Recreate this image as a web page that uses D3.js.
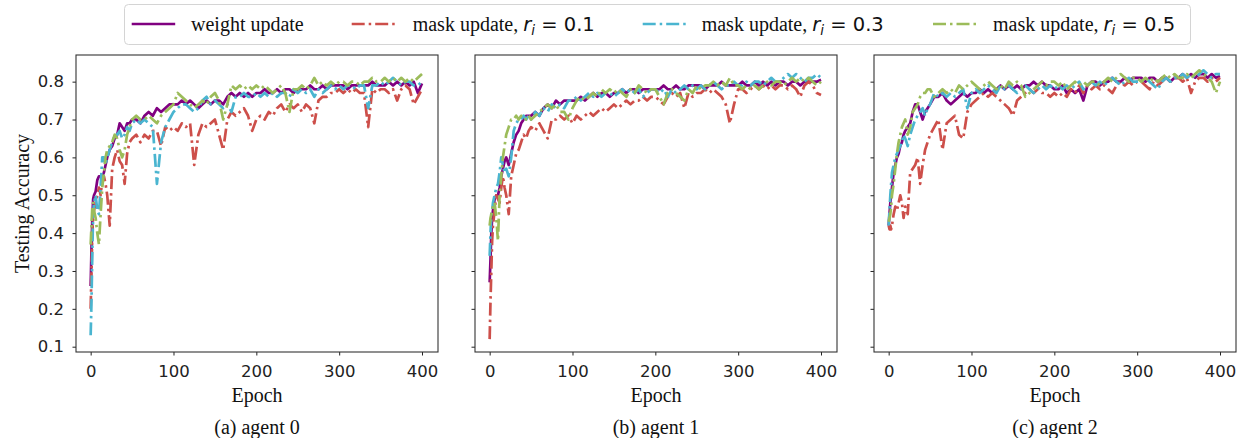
<!DOCTYPE html>
<html><head><meta charset="utf-8">
<script src="https://cdn.jsdelivr.net/npm/d3@7"></script>
<style>body{margin:0;background:#fff}</style></head>
<body>
<svg id="chart" width="1239" height="438"></svg>
<script>
// ---------------- DATA ----------------
const epochs = [0,1,2,3,4,6,8,10,12,14,16,18,20,23,26,29,32,35,38,41,44,47,
  50,55,60,65,70,75,80,85,90,95,100,
  105,110,115,120,125,130,135,140,145,150,
  155,160,165,170,175,180,185,190,195,200,
  205,210,215,220,225,230,235,240,245,250,
  255,260,265,270,275,280,285,290,295,300,
  305,310,315,320,325,330,335,340,345,350,
  355,360,365,370,375,380,385,390,395,400];

const seriesNames = ["weight update", "mask update, ", "mask update, ", "mask update, "];
const ratioLabels = ["", "0.1", "0.3", "0.5"];
const panelLabels = ["(a) agent 0", "(b) agent 1", "(c) agent 2"];
const xTicks = [0, 100, 200, 300, 400];
const yTicks = [0.1, 0.2, 0.3, 0.4, 0.5, 0.6, 0.7, 0.8];

// agent 0
const a0_weight = [0.26,0.36,0.44,0.49,0.50,0.51,0.54,0.55,0.55,0.55,0.56,0.58,0.60,0.62,0.63,0.65,0.66,0.69,0.68,0.67,0.69,0.69,
  0.70,0.70,0.69,0.71,0.72,0.71,0.73,0.72,0.73,0.74,0.74,
  0.74,0.75,0.74,0.75,0.74,0.73,0.74,0.75,0.74,0.75,
  0.75,0.74,0.76,0.77,0.76,0.77,0.76,0.77,0.76,0.77,
  0.77,0.78,0.77,0.77,0.78,0.77,0.78,0.78,0.77,0.78,
  0.78,0.78,0.79,0.78,0.78,0.79,0.78,0.79,0.79,0.79,
  0.79,0.78,0.79,0.79,0.79,0.79,0.79,0.80,0.79,0.79,
  0.79,0.80,0.79,0.80,0.79,0.80,0.79,0.80,0.77,0.795];
const a0_r1 = [0.20,0.30,0.40,0.44,0.46,0.48,0.50,0.52,0.50,0.54,0.55,0.53,0.50,0.42,0.57,0.60,0.62,0.59,0.58,0.53,0.61,0.64,
  0.65,0.66,0.64,0.66,0.65,0.67,0.67,0.63,0.68,0.67,0.68,
  0.67,0.69,0.68,0.69,0.58,0.66,0.69,0.68,0.69,0.70,
  0.66,0.62,0.70,0.72,0.71,0.72,0.73,0.71,0.67,0.70,
  0.71,0.70,0.72,0.71,0.73,0.74,0.72,0.74,0.73,0.74,
  0.72,0.74,0.73,0.69,0.75,0.76,0.76,0.77,0.77,0.78,
  0.77,0.78,0.77,0.78,0.77,0.77,0.68,0.78,0.77,0.78,
  0.78,0.77,0.78,0.75,0.78,0.79,0.78,0.74,0.76,0.78];
const a0_r3 = [0.13,0.22,0.35,0.45,0.48,0.50,0.46,0.45,0.52,0.60,0.60,0.58,0.60,0.62,0.64,0.66,0.66,0.67,0.65,0.66,0.68,0.67,
  0.69,0.70,0.69,0.70,0.69,0.68,0.53,0.64,0.68,0.70,0.72,
  0.73,0.74,0.74,0.73,0.72,0.73,0.75,0.76,0.74,0.75,
  0.74,0.73,0.74,0.72,0.76,0.76,0.77,0.76,0.76,0.77,
  0.76,0.77,0.76,0.77,0.76,0.77,0.77,0.76,0.78,0.77,
  0.78,0.77,0.78,0.76,0.78,0.77,0.78,0.79,0.78,0.79,
  0.78,0.79,0.79,0.78,0.79,0.79,0.73,0.79,0.79,0.80,
  0.79,0.80,0.81,0.80,0.79,0.80,0.80,0.79,0.79,0.80];
const a0_r5 = [0.37,0.42,0.47,0.48,0.46,0.44,0.40,0.37,0.45,0.52,0.56,0.60,0.62,0.63,0.64,0.66,0.65,0.62,0.60,0.62,0.66,0.68,
  0.70,0.71,0.70,0.70,0.71,0.70,0.69,0.71,0.72,0.73,0.74,
  0.77,0.76,0.75,0.74,0.73,0.74,0.75,0.74,0.76,0.77,
  0.75,0.70,0.74,0.79,0.78,0.79,0.78,0.79,0.78,0.79,
  0.78,0.79,0.78,0.77,0.78,0.79,0.77,0.72,0.78,0.78,
  0.79,0.78,0.79,0.81,0.79,0.80,0.79,0.80,0.79,0.80,
  0.80,0.79,0.80,0.80,0.79,0.80,0.80,0.81,0.80,0.80,
  0.81,0.80,0.81,0.80,0.81,0.80,0.81,0.80,0.81,0.82];

// agent 1
const a1_weight = [0.27,0.33,0.40,0.44,0.46,0.49,0.50,0.50,0.52,0.55,0.57,0.59,0.60,0.58,0.61,0.64,0.66,0.67,0.69,0.70,0.71,0.71,
  0.71,0.72,0.71,0.73,0.74,0.73,0.75,0.74,0.75,0.75,0.75,
  0.75,0.76,0.75,0.76,0.77,0.76,0.77,0.77,0.76,0.77,
  0.77,0.78,0.77,0.78,0.78,0.77,0.78,0.78,0.78,0.78,
  0.78,0.79,0.78,0.78,0.79,0.78,0.78,0.79,0.79,0.79,
  0.79,0.78,0.79,0.79,0.79,0.80,0.79,0.79,0.79,0.79,
  0.80,0.79,0.79,0.80,0.79,0.80,0.79,0.80,0.79,0.80,
  0.80,0.79,0.80,0.80,0.79,0.80,0.80,0.80,0.80,0.805];
const a1_r1 = [0.12,0.22,0.30,0.38,0.42,0.46,0.50,0.49,0.48,0.52,0.55,0.52,0.50,0.45,0.55,0.58,0.61,0.62,0.64,0.66,0.65,0.67,
  0.68,0.67,0.69,0.67,0.65,0.70,0.70,0.71,0.70,0.71,0.69,
  0.71,0.70,0.71,0.72,0.71,0.72,0.73,0.72,0.73,0.74,
  0.73,0.74,0.75,0.74,0.75,0.75,0.76,0.75,0.76,0.76,
  0.75,0.74,0.76,0.77,0.76,0.77,0.73,0.77,0.76,0.77,
  0.77,0.78,0.77,0.78,0.77,0.76,0.74,0.69,0.74,0.78,
  0.78,0.77,0.78,0.79,0.78,0.79,0.78,0.79,0.78,0.79,
  0.79,0.78,0.79,0.78,0.76,0.79,0.80,0.79,0.77,0.765];
const a1_r3 = [0.34,0.40,0.45,0.46,0.48,0.50,0.52,0.53,0.56,0.60,0.58,0.56,0.57,0.55,0.60,0.67,0.69,0.70,0.70,0.71,0.70,0.71,
  0.70,0.72,0.71,0.73,0.72,0.74,0.73,0.74,0.73,0.75,0.75,
  0.76,0.75,0.76,0.77,0.76,0.77,0.76,0.77,0.77,0.76,
  0.77,0.78,0.77,0.78,0.77,0.78,0.76,0.77,0.78,0.78,
  0.77,0.78,0.76,0.78,0.77,0.78,0.79,0.78,0.79,0.78,
  0.79,0.78,0.79,0.80,0.79,0.78,0.79,0.79,0.80,0.79,
  0.79,0.80,0.79,0.80,0.80,0.79,0.80,0.81,0.80,0.80,
  0.81,0.82,0.81,0.82,0.81,0.80,0.81,0.81,0.82,0.81];
const a1_r5 = [0.42,0.44,0.45,0.46,0.47,0.48,0.44,0.38,0.50,0.55,0.60,0.63,0.66,0.68,0.70,0.70,0.71,0.70,0.71,0.71,0.70,0.71,
  0.70,0.71,0.72,0.73,0.74,0.73,0.74,0.72,0.72,0.70,0.73,
  0.75,0.76,0.75,0.76,0.77,0.76,0.78,0.77,0.78,0.77,
  0.78,0.77,0.76,0.78,0.77,0.79,0.78,0.77,0.78,0.78,
  0.76,0.74,0.77,0.78,0.77,0.76,0.75,0.78,0.77,0.79,
  0.78,0.79,0.79,0.80,0.79,0.80,0.79,0.81,0.79,0.79,
  0.78,0.79,0.78,0.79,0.78,0.79,0.80,0.79,0.80,0.80,
  0.79,0.80,0.81,0.80,0.81,0.80,0.81,0.80,0.79,0.80];

// agent 2
const a2_weight = [0.42,0.45,0.48,0.50,0.52,0.56,0.58,0.60,0.61,0.63,0.64,0.66,0.67,0.68,0.69,0.72,0.74,0.74,0.72,0.70,0.72,0.73,
  0.74,0.76,0.76,0.77,0.75,0.74,0.75,0.76,0.77,0.76,0.77,
  0.77,0.78,0.77,0.78,0.77,0.78,0.79,0.78,0.79,0.78,
  0.79,0.78,0.79,0.79,0.80,0.79,0.80,0.79,0.79,0.78,
  0.78,0.79,0.77,0.78,0.77,0.78,0.75,0.79,0.80,0.80,
  0.79,0.80,0.80,0.81,0.80,0.80,0.81,0.80,0.81,0.81,
  0.81,0.80,0.81,0.81,0.80,0.81,0.81,0.80,0.81,0.81,
  0.82,0.81,0.82,0.81,0.82,0.82,0.81,0.82,0.81,0.815];
const a2_r1 = [0.42,0.41,0.42,0.41,0.42,0.45,0.47,0.46,0.48,0.50,0.48,0.44,0.47,0.45,0.56,0.57,0.58,0.60,0.53,0.58,0.62,0.64,
  0.66,0.68,0.70,0.62,0.69,0.70,0.71,0.66,0.65,0.72,0.74,
  0.75,0.76,0.77,0.76,0.77,0.76,0.75,0.74,0.73,0.71,
  0.75,0.76,0.77,0.78,0.77,0.78,0.77,0.77,0.76,0.77,
  0.76,0.77,0.76,0.78,0.77,0.79,0.77,0.79,0.78,0.79,
  0.78,0.79,0.78,0.77,0.79,0.80,0.79,0.80,0.79,0.80,
  0.80,0.79,0.78,0.80,0.79,0.80,0.81,0.80,0.81,0.81,
  0.80,0.81,0.77,0.80,0.81,0.81,0.80,0.81,0.80,0.81];
const a2_r3 = [0.42,0.46,0.50,0.53,0.56,0.58,0.60,0.61,0.62,0.63,0.64,0.66,0.65,0.63,0.66,0.68,0.70,0.71,0.72,0.73,0.71,0.73,
  0.74,0.77,0.76,0.77,0.76,0.77,0.76,0.77,0.78,0.73,0.77,
  0.78,0.77,0.78,0.79,0.78,0.77,0.79,0.78,0.79,0.78,
  0.77,0.78,0.79,0.78,0.77,0.78,0.79,0.78,0.79,0.78,
  0.79,0.78,0.79,0.78,0.79,0.80,0.78,0.79,0.80,0.79,
  0.80,0.79,0.80,0.81,0.80,0.79,0.80,0.81,0.80,0.80,
  0.80,0.81,0.80,0.79,0.78,0.80,0.81,0.80,0.81,0.81,
  0.82,0.81,0.82,0.81,0.82,0.83,0.82,0.81,0.82,0.82];
const a2_r5 = [0.43,0.44,0.45,0.47,0.50,0.53,0.57,0.61,0.64,0.66,0.68,0.69,0.70,0.66,0.68,0.72,0.73,0.74,0.76,0.77,0.77,0.78,
  0.78,0.76,0.77,0.78,0.77,0.78,0.77,0.79,0.78,0.79,0.80,
  0.79,0.78,0.79,0.80,0.79,0.78,0.79,0.78,0.80,0.79,
  0.80,0.79,0.76,0.77,0.78,0.79,0.80,0.79,0.80,0.80,
  0.79,0.80,0.78,0.79,0.80,0.79,0.80,0.79,0.80,0.80,
  0.79,0.80,0.81,0.80,0.81,0.82,0.81,0.80,0.81,0.81,
  0.80,0.81,0.80,0.81,0.80,0.81,0.82,0.81,0.82,0.81,
  0.81,0.82,0.81,0.82,0.83,0.82,0.81,0.80,0.77,0.80];

const panelSeries = [
  [a0_weight, a0_r1, a0_r3, a0_r5],
  [a1_weight, a1_r1, a1_r3, a1_r5],
  [a2_weight, a2_r1, a2_r3, a2_r5]
];

// ---------------- STYLE ----------------
const colors = ["#800080", "#cd4f4a", "#4ab5d0", "#9cbc5a"];
const dashes = [null, "13,4,2.5,4", "13,4,2.5,4", "13,4,2.5,4"];
const serif = "'Liberation Serif','Times New Roman',serif";
const sans = "'DejaVu Sans',sans-serif";

const svg = d3.select("#chart");
const panelLefts = [76, 475, 874];
const pw = 362, plotTop = 55, plotBottom = 352;

const y = d3.scaleLinear().domain([0.086, 0.8704]).range([plotBottom, plotTop]);

panelSeries.forEach((series, p) => {
  const L = panelLefts[p];
  const x = d3.scaleLinear().domain([-17.7, 419.3]).range([L, L + pw]);
  const g = svg.append("g");

  series.forEach((vals, s) => {
    const pts = epochs.map((e, i) => [e, vals[i]]);
    const line = d3.line().x(d => x(d[0])).y(d => y(d[1]));
    g.append("path").datum(pts)
      .attr("d", line)
      .attr("fill", "none")
      .attr("stroke", colors[s])
      .attr("stroke-width", 2.7)
      .attr("stroke-linejoin", "round")
      .attr("stroke-dasharray", dashes[s]);
  });

  const xa = g.append("g").attr("transform", `translate(0,${plotBottom})`)
    .call(d3.axisBottom(x).tickValues(xTicks).tickSize(3.5).tickSizeOuter(0).tickFormat(d3.format("d")));
  xa.select(".domain").remove();
  xa.selectAll("line").attr("stroke", "#222");
  xa.selectAll("text").attr("dy", null).attr("y", 24.5)
    .attr("font-family", sans).attr("font-size", 16.5).attr("fill", "#222");

  const ya = g.append("g").attr("transform", `translate(${L},0)`)
    .call(d3.axisLeft(y).tickValues(yTicks).tickSize(3.5).tickPadding(8.5).tickFormat(d3.format(".1f")));
  ya.select(".domain").remove();
  ya.selectAll("line").attr("stroke", "#222");
  ya.selectAll("text").attr("font-family", sans).attr("font-size", 16.5).attr("fill", "#222")
    .style("display", p === 0 ? null : "none");

  g.append("rect").attr("x", L).attr("y", plotTop).attr("width", pw).attr("height", plotBottom - plotTop)
    .attr("fill", "none").attr("stroke", "#333").attr("stroke-width", 1.1);

  g.append("text").attr("x", L + pw / 2).attr("y", 401.5).attr("text-anchor", "middle")
    .attr("font-family", serif).attr("font-size", 20).attr("fill", "#111").text("Epoch");
  g.append("text").attr("x", L + pw / 2).attr("y", 434).attr("text-anchor", "middle")
    .attr("font-family", serif).attr("font-size", 20).attr("fill", "#111").text(panelLabels[p]);
});

svg.append("text").attr("transform", `translate(29,${(plotTop + plotBottom) / 2}) rotate(-90)`)
  .attr("text-anchor", "middle").attr("font-family", serif).attr("font-size", 20).attr("fill", "#111")
  .text("Testing Accuracy");

svg.append("rect").attr("x", 124.5).attr("y", 4.5).attr("width", 1066).attr("height", 40).attr("rx", 4)
  .attr("fill", "#fff").attr("stroke", "#d4d4d4").attr("stroke-width", 1);
const legLineX = [131.7, 351.7, 642.7, 933];
const legTextX = [191, 412.7, 701.7, 993];
seriesNames.forEach((name, s) => {
  svg.append("line").attr("x1", legLineX[s]).attr("x2", legLineX[s] + 43.5).attr("y1", 24).attr("y2", 24)
    .attr("stroke", colors[s]).attr("stroke-width", 2.7).attr("stroke-dasharray", dashes[s]);
  const t = svg.append("text").attr("x", legTextX[s]).attr("y", 31)
    .attr("font-family", serif).attr("font-size", 20).attr("fill", "#111");
  t.append("tspan").text(name);
  if (ratioLabels[s]) {
    t.append("tspan").attr("font-family", sans).attr("font-style", "italic").attr("font-size", 19.5).text("r");
    t.append("tspan").attr("font-family", sans).attr("font-style", "italic").attr("font-size", 13.5).attr("dy", 4).text("i");
    t.append("tspan").attr("font-family", sans).attr("font-size", 19.5).attr("dy", -4).text(" = " + ratioLabels[s]);
  }
});
</script>
</body></html>
